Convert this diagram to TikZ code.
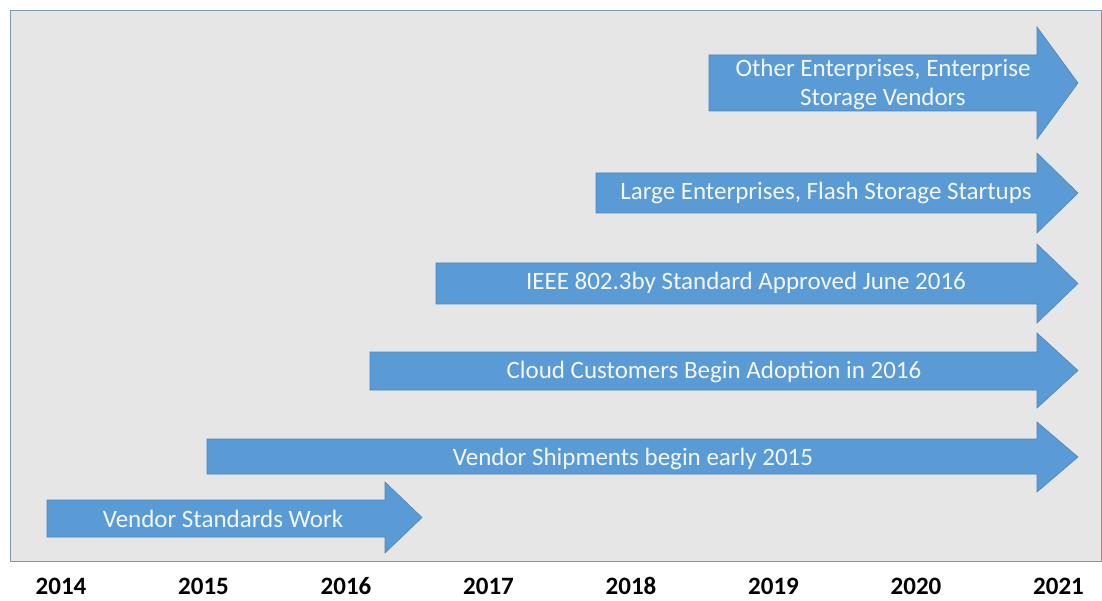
\documentclass[tikz,border=0pt]{standalone}
\usepackage{fontspec}
\setmainfont{Carlito}
\usetikzlibrary{positioning}
\definecolor{barblue}{HTML}{5B9BD5}
\definecolor{barline}{HTML}{4A86BD}
\definecolor{panelgray}{HTML}{E7E6E6}
\definecolor{panelline}{HTML}{8497B0}
\tikzset{
    panel/.style = {fill=panelgray, draw=panelline, line width=0.8pt},
    bar/.style = {fill=barblue, draw=barline, line width=0.6pt},
    bartext/.style = {align=center, inner sep=0pt, text=white!92!barblue, font=\fontsize{25}{29}\selectfont},
    yeartext/.style = {inner sep=0pt, anchor=base, text depth=0pt, font=\fontsize{25}{30}\selectfont\bfseries}
}

\begin{document}
\begin{tikzpicture}[x=1pt, y=-1pt]
    \useasboundingbox (0,0) rectangle (1102,601);
    \draw[panel] (10,10) rectangle (1101,561);

    % timeline arrows: start, body top/bottom, head top/bottom, head base, tip
    \foreach \xa/\ya/\yb/\ha/\hb/\xb/\xc in {
        709/55/111/27/139/1037/1078,
        596/173/213/153/233/1037/1078,
        436/263/304/244/323/1037/1078,
        370/352/390/333/408/1037/1078,
        207/439/474/422/492/1037/1078,
        47/500/537/482/553/385/422}
    {
        \draw[bar] (\xa,\ya) -- (\xb,\ya) -- (\xb,\ha) -- (\xc,{(\ha+\hb)/2})
            -- (\xb,\hb) -- (\xb,\yb) -- (\xa,\yb) -- cycle;
    }

    \node[bartext] (other) at (883,84) {Other Enterprises, Enterprise\\Storage Vendors};
    \node[bartext] (large) at (826,193) {Large Enterprises, Flash Storage Startups};
    \node[bartext] (ieee) at (746,283) {IEEE 802.3by Standard Approved June 2016};
    \node[bartext] (cloud) at (714,372) {Cloud Customers Begin Adoption in 2016};
    \node[bartext] (ship) at (633,459) {Vendor Shipments begin early 2015};
    \node[bartext] (work) at (223,519) {Vendor Standards Work};

    % years
    \foreach \yr [count=\i from 0] in {2014,...,2021}
        \node[yeartext] (y\yr) at ({61+142.5*\i},594) {\yr};
\end{tikzpicture}
\end{document}
